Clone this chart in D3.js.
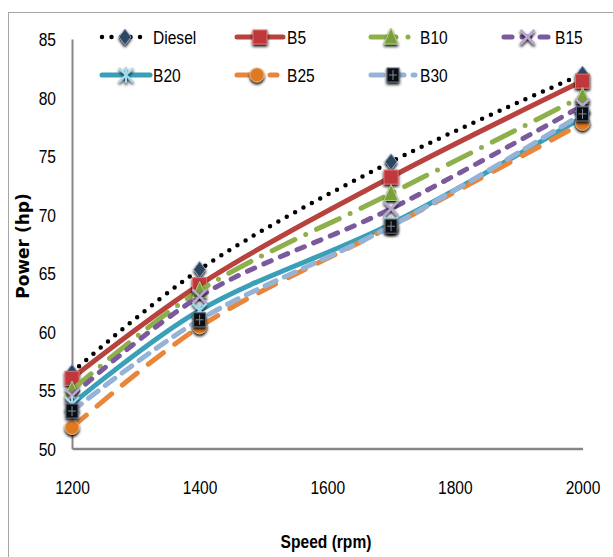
<!DOCTYPE html>
<html><head><meta charset="utf-8">
<script src="https://cdn.jsdelivr.net/npm/d3@7"></script>
<style>
html,body{margin:0;padding:0;background:#fff;}
svg{display:block;}
</style></head>
<body>
<svg id="chart" width="613" height="557"></svg>
<script>
const speeds = [1200, 1400, 1700, 2000];
const xTicks = [1200, 1400, 1600, 1800, 2000];
const yTicks = [50, 55, 60, 65, 70, 75, 80, 85];
const seriesNames = ["Diesel", "B5", "B10", "B15", "B20", "B25", "B30"];
const diesel = [56.5, 65.3, 74.5, 82.0];
const b5 = [56.0, 64.0, 73.2, 81.4];
const b10 = [55.0, 63.5, 71.8, 80.1];
const b15 = [54.5, 63.0, 70.5, 79.3];
const b20 = [53.8, 61.8, 69.2, 78.3];
const b25 = [51.8, 60.4, 69.0, 77.8];
const b30 = [53.2, 61.0, 69.0, 78.6];
const seriesValues = [diesel, b5, b10, b15, b20, b25, b30];

const styles = {
  Diesel: {color: "#000000", width: 4.5, dash: "0 9.5", marker: "diamond", mfill: "#2f4560"},
  B5:     {color: "#b8423e", width: 5,   dash: null, marker: "square", mfill: "#c0393a"},
  B10:    {color: "#8db04a", width: 5,   dash: "25 12 0 12", marker: "triangle", mfill: "#7a9e3a"},
  B15:    {color: "#7a5a9c", width: 5,   dash: "8 10", marker: "x", mfill: "#b8a6d0"},
  B20:    {color: "#3aa0b8", width: 5,   dash: null, marker: "star", mfill: "#9fdcef"},
  B25:    {color: "#e8873c", width: 5,   dash: "19 14", marker: "circle", mfill: "#e07a20"},
  B30:    {color: "#95b3d7", width: 5,   dash: "12 9", marker: "blacksq", mfill: "#111111"}
};

const svg = d3.select("#chart");
const defs = svg.append("defs");
const f = defs.append("filter").attr("id","shadow").attr("x","-50%").attr("y","-50%").attr("width","200%").attr("height","200%");
f.append("feGaussianBlur").attr("in","SourceAlpha").attr("stdDeviation",1.6).attr("result","b");
f.append("feOffset").attr("dx",0).attr("dy",1.5).attr("result","o");
const fm = f.append("feMerge");
fm.append("feMergeNode").attr("in","o");
fm.append("feMergeNode").attr("in","SourceGraphic");

// outer chart border
svg.append("rect").attr("x",8.5).attr("y",12.5).attr("width",640).attr("height",600)
  .attr("fill","none").attr("stroke","#a6a6a6").attr("stroke-width",1);

const x = d3.scaleLinear().domain([1200, 2000]).range([72, 582.5]);
const y = d3.scaleLinear().domain([50, 85]).range([448.5, 39]);

const tickFont = "'Liberation Sans', Arial, sans-serif";
const SX = 0.82;

// axes
const yAxis = d3.axisLeft(y).tickValues(yTicks).tickSize(0);
const gy = svg.append("g").attr("transform","translate(72,0)").call(yAxis);
gy.select(".domain").attr("stroke","#868686").attr("stroke-width",2);
gy.selectAll("text").attr("font-family",tickFont).attr("font-size",19).attr("fill","#000")
  .attr("x",0).attr("dy","0.36em").attr("transform",`translate(-16,0) scale(${SX},1)`);

const xAxis = d3.axisBottom(x).tickValues(xTicks).tickSize(0).tickPadding(32).tickFormat(d3.format("d"));
const gx = svg.append("g").attr("transform","translate(0,448.5)").call(xAxis);
gx.select(".domain").attr("stroke","#868686").attr("stroke-width",2.5);
gx.selectAll("text").attr("font-family",tickFont).attr("font-size",19).attr("fill","#000")
  .attr("transform",`scale(${SX},1)`);

// axis titles
svg.append("text").attr("transform","translate(28.5,246) rotate(-90)")
  .attr("text-anchor","middle").attr("font-family","'DejaVu Sans', Verdana, sans-serif")
  .attr("font-weight","bold").attr("font-size",17).attr("fill","#000").text("Power (hp)");
svg.append("text").attr("transform",`translate(326,548) scale(${SX},1)`).attr("text-anchor","middle")
  .attr("font-family",tickFont).attr("font-weight","bold").attr("font-size",19).attr("fill","#000")
  .text("Speed (rpm)");

function drawMarker(g, type, cx, cy, st) {
  const s = 7;
  if (type === "diamond") {
    g.append("path").attr("d", `M${cx},${cy-s-1}L${cx+s-1},${cy}L${cx},${cy+s+1}L${cx-s+1},${cy}Z`)
      .attr("fill", st.mfill).attr("stroke","#8aa0c0").attr("stroke-width",1).attr("filter","url(#shadow)");
  } else if (type === "square") {
    g.append("rect").attr("x",cx-s).attr("y",cy-s).attr("width",2*s).attr("height",2*s)
      .attr("fill", st.mfill).attr("stroke","#e07070").attr("stroke-width",1).attr("filter","url(#shadow)");
  } else if (type === "triangle") {
    g.append("path").attr("d", `M${cx},${cy-s-2}L${cx+s},${cy+s}L${cx-s},${cy+s}Z`)
      .attr("fill", st.mfill).attr("stroke","#b0d080").attr("stroke-width",1).attr("filter","url(#shadow)");
  } else if (type === "x") {
    g.append("path").attr("d", `M${cx-s},${cy-s}L${cx+s},${cy+s}M${cx+s},${cy-s}L${cx-s},${cy+s}`)
      .attr("stroke", st.mfill).attr("stroke-width",2.5).attr("fill","none").attr("filter","url(#shadow)");
  } else if (type === "star") {
    g.append("path").attr("d", `M${cx-s},${cy-s}L${cx+s},${cy+s}M${cx+s},${cy-s}L${cx-s},${cy+s}M${cx},${cy-s-1}L${cx},${cy+s+1}`)
      .attr("stroke", st.mfill).attr("stroke-width",2).attr("fill","none").attr("filter","url(#shadow)");
  } else if (type === "circle") {
    g.append("circle").attr("cx",cx).attr("cy",cy).attr("r",s)
      .attr("fill", st.mfill).attr("stroke","#f0b070").attr("stroke-width",1).attr("filter","url(#shadow)");
  } else if (type === "blacksq") {
    g.append("rect").attr("x",cx-s+1).attr("y",cy-s).attr("width",2*s-2).attr("height",2*s)
      .attr("fill", st.mfill).attr("stroke","#5a6a80").attr("stroke-width",1).attr("filter","url(#shadow)");
    g.append("path").attr("d", `M${cx},${cy-s+2}L${cx},${cy+s-2}M${cx-s+3},${cy}L${cx+s-3},${cy}`)
      .attr("stroke","#7f8fa8").attr("stroke-width",1);
  }
}

const line = d3.line().x(d => x(d[0])).y(d => y(d[1])).curve(d3.curveCatmullRom.alpha(0.5));

seriesNames.forEach((name, i) => {
  const st = styles[name];
  const pts = speeds.map((s, j) => [s, seriesValues[i][j]]);
  const g = svg.append("g");
  g.append("path").attr("d", line(pts)).attr("fill","none")
    .attr("stroke", st.color).attr("stroke-width", st.width)
    .attr("stroke-linecap","round").attr("stroke-linejoin","round")
    .attr("stroke-dasharray", st.dash);
  pts.forEach(p => drawMarker(g, st.marker, x(p[0]), y(p[1]), st));
});

// legend
const legendPos = [
  {lx: 102, ly: 37, len: 46},
  {lx: 237, ly: 37, len: 46},
  {lx: 371, ly: 37, len: 40},
  {lx: 504, ly: 37, len: 47},
  {lx: 102, ly: 75, len: 48},
  {lx: 237, ly: 75, len: 40},
  {lx: 371, ly: 75, len: 44}
];
const textX = [153, 287, 420, 555, 153, 287, 420];
seriesNames.forEach((name, i) => {
  const st = styles[name];
  const p = legendPos[i];
  const g = svg.append("g");
  g.append("line").attr("x1", p.lx).attr("x2", p.lx + p.len).attr("y1", p.ly).attr("y2", p.ly)
    .attr("stroke", st.color).attr("stroke-width", st.width).attr("stroke-linecap","round")
    .attr("stroke-dasharray", st.dash);
  drawMarker(g, st.marker, p.lx + p.len / 2, p.ly, st);
  g.append("text").attr("transform", `translate(${textX[i]},${p.ly}) scale(${SX},1)`).attr("dy","0.36em")
    .attr("font-family", tickFont).attr("font-size", 19).attr("fill","#000").text(name);
});
</script>
</body></html>
